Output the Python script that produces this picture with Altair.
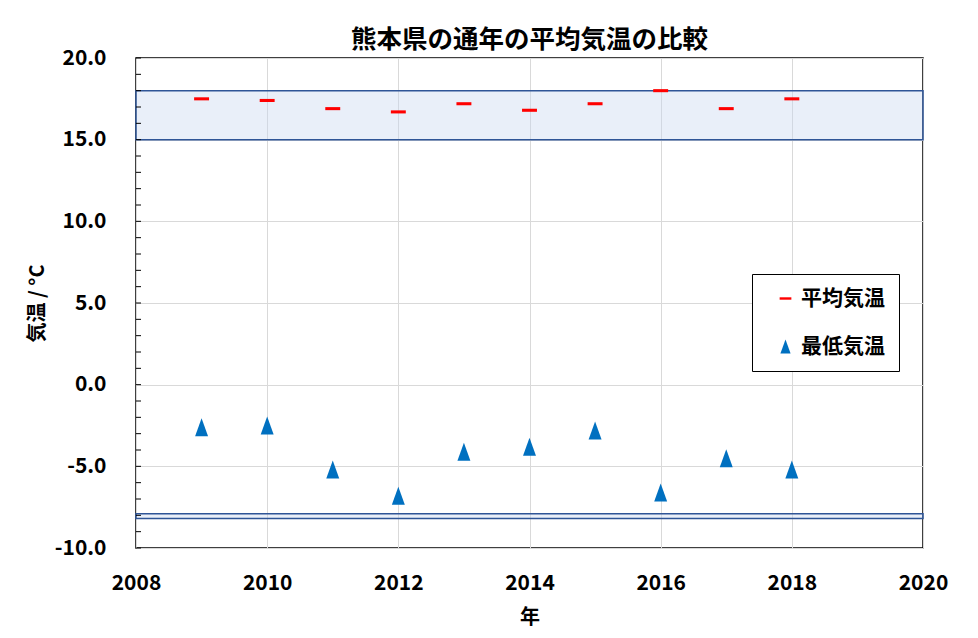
import altair as alt
import pandas as pd

# ---- data ----
years = [2009, 2010, 2011, 2012, 2013, 2014, 2015, 2016, 2017, 2018]
mean_temp = [17.5, 17.4, 16.9, 16.7, 17.2, 16.8, 17.2, 18.0, 16.9, 17.5]
min_temp = [-2.6, -2.5, -5.2, -6.8, -4.1, -3.8, -2.8, -6.6, -4.5, -5.2]
series_names = ["平均気温", "最低気温"]
band_low = [15.0, -8.2]
band_high = [18.0, -7.9]
y_major = [-10, -5, 0, 5, 10, 15, 20]
y_minor = [-10, -9, -8, -7, -6, -5, -4, -3, -2, -1, 0, 1, 2, 3, 4, 5, 6, 7, 8, 9,
           10, 11, 12, 13, 14, 15, 16, 17, 18, 19, 20]
x_ticks = [2008, 2010, 2012, 2014, 2016, 2018, 2020]

FONT = "Noto Sans CJK JP"
W, H = 787, 490

pts = pd.DataFrame({
    "year": years * 2,
    "value": mean_temp + min_temp,
    "series": [series_names[0]] * len(years) + [series_names[1]] * len(years),
})
bands = pd.DataFrame({"low": band_low, "high": band_high})
minor = pd.DataFrame({"v": y_minor})

x_scale = alt.Scale(domain=[2008, 2020], nice=False, zero=False)
y_scale = alt.Scale(domain=[-10, 20], nice=False, zero=False)

dash_path = "M-0.83,-0.17L0.83,-0.17L0.83,0.17L-0.83,0.17Z"
tri_path = "M0,-1L0.72,1L-0.72,1Z"

band_layer = alt.Chart(bands).mark_rect(
    fill="#C9D7EF", fillOpacity=0.4, stroke="#2F5597", strokeWidth=1.5
).encode(
    x=alt.value(0), x2=alt.value(W),
    y=alt.Y("low:Q", scale=y_scale), y2="high:Q",
)

minor_layer = alt.Chart(minor).mark_rule(color="black", strokeWidth=1).encode(
    x=alt.value(0), x2=alt.value(5),
    y=alt.Y("v:Q", scale=y_scale),
)

legend = alt.Legend(title=None, orient="none", legendX=616, legendY=216)

point_layer = alt.Chart(pts).mark_point(filled=True, size=324, opacity=1).encode(
    x=alt.X("year:Q", scale=x_scale,
            axis=alt.Axis(values=x_ticks, format="d", title="年", grid=True,
                          ticks=False, domain=False, labelPadding=24,
                          labelFlush=False, titlePadding=14)),
    y=alt.Y("value:Q", scale=y_scale,
            axis=alt.Axis(values=y_major, format=".1f", title="気温 / °C",
                          labelExpr="replace(format(datum.value, '.1f'), '\u2212', '-')",
                          grid=True, ticks=False, domain=False,
                          labelPadding=30, titlePadding=7)),
    color=alt.Color("series:N",
                    scale=alt.Scale(domain=series_names, range=["#FF0000", "#0070C0"]),
                    legend=legend),
    shape=alt.Shape("series:N",
                    scale=alt.Scale(domain=series_names, range=[dash_path, tri_path]),
                    legend=legend),
)

chart = alt.layer(band_layer, minor_layer, point_layer).properties(
    width=W, height=H,
    padding={"left": 19, "top": 19, "right": 5, "bottom": 5},
    title=alt.TitleParams("熊本県の通年の平均気温の比較", font=FONT, fontSize=25.5,
                          fontWeight="bold", color="black", offset=-6),
).configure(
    font=FONT,
).configure_view(
    stroke="black", strokeWidth=1.5,
).configure_axis(
    labelFont=FONT, labelFontSize=21, labelFontWeight="bold", labelColor="black",
    titleFont=FONT, titleFontSize=20, titleFontWeight="bold", titleColor="black",
    gridColor="#D9D9D9", gridWidth=1,
).configure_legend(
    labelFont=FONT, labelFontSize=21, labelFontWeight="bold", labelColor="black",
    strokeColor="black", fillColor="white", padding=14,
    symbolSize=200, symbolOffset=9, labelOffset=5, rowPadding=26,
    symbolStrokeWidth=0,
)

chart.save("out.html", embed_options={"renderer": "svg", "actions": False})
